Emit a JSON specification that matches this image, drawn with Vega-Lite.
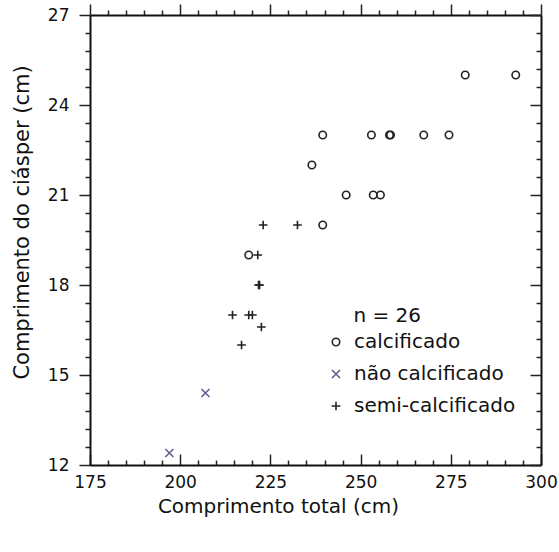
{
  "$schema": "https://vega.github.io/schema/vega-lite/v6.json",
  "autosize": {"type": "none"},
  "width": 451,
  "height": 450,
  "padding": {"left": 90, "top": 15, "right": 18, "bottom": 87},
  "background": "white",
  "config": {
    "view": {"stroke": null},
    "font": "DejaVu Sans",
    "axis": {"grid": false, "domainColor": "#111", "domainWidth": 2, "tickColor": "#222", "tickWidth": 1.5, "labelColor": "#111", "titleColor": "#111", "labelFont": "DejaVu Sans", "titleFont": "DejaVu Sans", "titleFontWeight": "normal"},
    "legend": {"labelFont": "DejaVu Sans", "titleFont": "DejaVu Sans"}
  },
  "data": {"values": [
    {"total": 279, "clasper": 25, "tipo": "calcificado"},
    {"total": 293, "clasper": 25, "tipo": "calcificado"},
    {"total": 239.5, "clasper": 23, "tipo": "calcificado"},
    {"total": 253, "clasper": 23, "tipo": "calcificado"},
    {"total": 258, "clasper": 23, "tipo": "calcificado"},
    {"total": 258.3, "clasper": 23, "tipo": "calcificado"},
    {"total": 267.5, "clasper": 23, "tipo": "calcificado"},
    {"total": 274.5, "clasper": 23, "tipo": "calcificado"},
    {"total": 236.5, "clasper": 22, "tipo": "calcificado"},
    {"total": 246, "clasper": 21, "tipo": "calcificado"},
    {"total": 253.5, "clasper": 21, "tipo": "calcificado"},
    {"total": 255.5, "clasper": 21, "tipo": "calcificado"},
    {"total": 239.5, "clasper": 20, "tipo": "calcificado"},
    {"total": 219, "clasper": 19, "tipo": "calcificado"},
    {"total": 207, "clasper": 14.4, "tipo": "não calcificado"},
    {"total": 197, "clasper": 12.4, "tipo": "não calcificado"},
    {"total": 223, "clasper": 20, "tipo": "semi-calcificado"},
    {"total": 232.5, "clasper": 20, "tipo": "semi-calcificado"},
    {"total": 221.5, "clasper": 19, "tipo": "semi-calcificado"},
    {"total": 222, "clasper": 18, "tipo": "semi-calcificado"},
    {"total": 221.7, "clasper": 18, "tipo": "semi-calcificado"},
    {"total": 214.5, "clasper": 17, "tipo": "semi-calcificado"},
    {"total": 219, "clasper": 17, "tipo": "semi-calcificado"},
    {"total": 220, "clasper": 17, "tipo": "semi-calcificado"},
    {"total": 222.5, "clasper": 16.6, "tipo": "semi-calcificado"},
    {"total": 217, "clasper": 16, "tipo": "semi-calcificado"}
  ]},
  "resolve": {"axis": {"x": "independent", "y": "independent"}},
  "layer": [
    {
      "mark": {"type": "point", "filled": false, "strokeWidth": 1.6, "opacity": 1},
      "encoding": {
        "x": {"field": "total", "type": "quantitative",
          "scale": {"domain": [175, 300], "nice": false, "zero": false},
          "axis": {"orient": "bottom", "title": "Comprimento total (cm)",
            "values": [175,180,185,190,195,200,205,210,215,220,225,230,235,240,245,250,255,260,265,270,275,280,285,290,295,300],
            "labelExpr": "datum.value % 25 === 0 ? datum.label : ''",
            "labelOverlap": false, "labelFlush": false, "labelFontSize": 17, "labelPadding": 20,
            "tickSize": {"condition": {"test": "datum.value % 25 === 0", "value": -11}, "value": -5},
            "titleFontSize": 20, "titleX": 188, "titleY": 31, "titleBaseline": "top", "titleAnchor": null}},
        "y": {"field": "clasper", "type": "quantitative",
          "scale": {"domain": [12, 27], "nice": false, "zero": false},
          "axis": {"orient": "left", "title": "Comprimento do ciásper (cm)",
            "values": [12,12.6,13.2,13.8,14.4,15,15.6,16.2,16.8,17.4,18,18.6,19.2,19.8,20.4,21,21.6,22.2,22.8,23.4,24,24.6,25.2,25.8,26.4,27],
            "labelExpr": "datum.value % 3 === 0 ? format(datum.value, 'd') : ''",
            "labelOverlap": false, "labelFlush": false, "labelFontSize": 17, "labelPadding": 10,
            "tickSize": {"condition": {"test": "datum.value % 3 === 0", "value": 11}, "value": 5},
            "titleFontSize": 21, "titleX": -68, "titleY": 207, "titleBaseline": "middle", "titleAnchor": null}},
        "shape": {"field": "tipo", "type": "nominal",
          "scale": {"domain": ["calcificado", "não calcificado", "semi-calcificado"], "range": ["circle", "M-1,-1L1,1M-1,1L1,-1", "M0,-1L0,1M-1,0L1,0"]},
          "legend": {"orient": "none", "legendX": 236, "legendY": 291, "title": "n = 26",
            "titleFontSize": 20, "titleFontWeight": "normal", "titleColor": "#111", "titlePadding": 6,
            "titleAnchor": "middle", "titleAlign": "right",
            "labelFontSize": 20, "labelColor": "#111", "labelOffset": 8, "labelLimit": 300, "rowPadding": 12, "padding": 0, "symbolStrokeWidth": 1.6}},
        "color": {"field": "tipo", "type": "nominal",
          "scale": {"domain": ["calcificado", "não calcificado", "semi-calcificado"], "range": ["#222222", "#5e5e90", "#222222"]}},
        "size": {"field": "tipo", "type": "nominal",
          "scale": {"domain": ["calcificado", "não calcificado", "semi-calcificado"], "range": [55, 75, 140]}}
      }
    },
    {
      "mark": {"type": "point", "opacity": 0},
      "encoding": {
        "x": {"field": "total", "type": "quantitative",
          "axis": {"orient": "top", "title": null, "labels": false,
            "values": [175,180,185,190,195,200,205,210,215,220,225,230,235,240,245,250,255,260,265,270,275,280,285,290,295,300],
            "tickSize": {"condition": {"test": "datum.value % 25 === 0", "value": 11}, "value": 5}}},
        "y": {"field": "clasper", "type": "quantitative",
          "axis": {"orient": "right", "title": null, "labels": false,
            "values": [12,12.6,13.2,13.8,14.4,15,15.6,16.2,16.8,17.4,18,18.6,19.2,19.8,20.4,21,21.6,22.2,22.8,23.4,24,24.6,25.2,25.8,26.4,27],
            "tickSize": {"condition": {"test": "datum.value % 3 === 0", "value": -11}, "value": -5}}}
      }
    }
  ]
}
